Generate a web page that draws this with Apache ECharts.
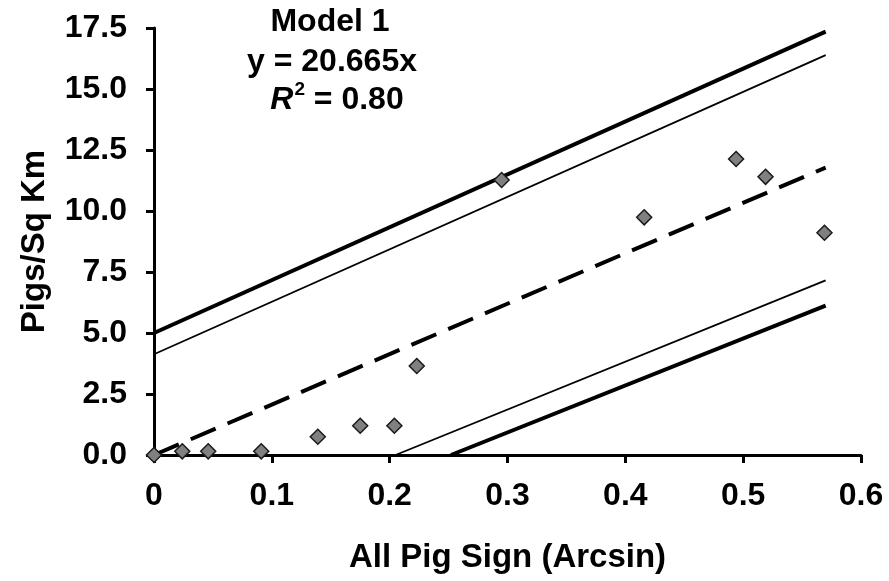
<!DOCTYPE html>
<html>
<head>
<meta charset="utf-8">
<script src="https://cdn.jsdelivr.net/npm/echarts@6/dist/echarts.min.js"></script>
<style>
html,body{margin:0;padding:0;background:#fff;}
#c{width:889px;height:581px;}
</style>
</head>
<body>
<div id="c"></div>
<script>
// Observed points (x = All Pig Sign (Arcsin), y = Pigs/Sq Km)
const xVals = [0, 0.024, 0.046, 0.091, 0.139, 0.175, 0.204, 0.223, 0.295, 0.416, 0.494, 0.519, 0.569];
const yVals = [0, 0.15, 0.15, 0.15, 0.75, 1.2, 1.2, 3.65, 11.27, 9.74, 12.13, 11.4, 9.11];

// Line end points
const fitLine = [[0, 0], [0.57, 11.78]];
const upperThick = [[0, 5.0], [0.57, 17.35]];
const upperThin = [[0, 4.13], [0.57, 16.39]];
const lowerThin = [[0.205, 0], [0.57, 7.16]];
const lowerThick = [[0.252, 0], [0.57, 6.12]];

// Axis ticks
const xTicks = [0, 0.1, 0.2, 0.3, 0.4, 0.5, 0.6];
const yTicks = [0, 2.5, 5, 7.5, 10, 12.5, 15, 17.5];

const annotation = ['Model 1', 'y = 20.665x', '{i|R}{s|2}{n| = 0.80}'];

const points = xVals.map((x, i) => [x, yVals[i]]);
const font = 'Liberation Sans, Arial, sans-serif';

const chart = echarts.init(document.getElementById('c'), null, {renderer: 'canvas'});
const axisCommon = {
  axisLine: {show: true, onZero: false, lineStyle: {color: '#000', width: 3}},
  axisTick: {show: true, inside: false, length: 8, lineStyle: {color: '#000', width: 3}},
  splitLine: {show: false},
  axisLabel: {color: '#000', fontFamily: font, fontWeight: 'bold', fontSize: 32},
  nameTextStyle: {color: '#000', fontFamily: font, fontWeight: 'bold', fontSize: 33}
};
chart.setOption({
  animation: false,
  backgroundColor: '#fff',
  grid: {left: 154, right: 28, top: 28, bottom: 126, containLabel: false},
  xAxis: Object.assign({}, axisCommon, {
    type: 'value', min: xTicks[0], max: xTicks[xTicks.length - 1], interval: 0.1,
    name: 'All Pig Sign (Arcsin)', nameLocation: 'middle', nameGap: 86,
    axisLabel: Object.assign({}, axisCommon.axisLabel, {margin: 25,
      formatter: v => v === 0 ? '0' : v.toFixed(1)})
  }),
  yAxis: Object.assign({}, axisCommon, {
    type: 'value', min: yTicks[0], max: yTicks[yTicks.length - 1], interval: 2.5,
    name: 'Pigs/Sq Km', nameLocation: 'middle', nameGap: 103, nameRotate: 90,
    axisLabel: Object.assign({}, axisCommon.axisLabel, {margin: 27,
      formatter: v => v.toFixed(1)})
  }),
  series: [
    {type: 'line', data: upperThick, symbol: 'none', lineStyle: {color: '#000', width: 4}, z: 2},
    {type: 'line', data: upperThin, symbol: 'none', lineStyle: {color: '#000', width: 1.8}, z: 2},
    {type: 'line', data: fitLine, symbol: 'none', lineStyle: {color: '#000', width: 4, type: [27, 13]}, z: 2},
    {type: 'line', data: lowerThin, symbol: 'none', lineStyle: {color: '#000', width: 1.8}, z: 2},
    {type: 'line', data: lowerThick, symbol: 'none', lineStyle: {color: '#000', width: 4}, z: 2},
    {type: 'scatter', data: points, symbol: 'diamond', symbolSize: 15,
      itemStyle: {color: '#808080', borderColor: '#1a1a1a', borderWidth: 1.5, opacity: 1}, z: 5}
  ],
  graphic: [
    {type: 'text', x: 330, y: 22, style: {text: annotation[0], align: 'center', verticalAlign: 'middle',
      font: 'bold 32px ' + font, fill: '#000'}},
    {type: 'text', x: 332, y: 62, style: {text: annotation[1], align: 'center', verticalAlign: 'middle',
      font: 'bold 32px ' + font, fill: '#000'}},
    {type: 'text', x: 337, y: 98, style: {text: annotation[2], align: 'center', verticalAlign: 'middle',
      fill: '#000',
      rich: {
        i: {fontFamily: font, fontWeight: 'bold', fontStyle: 'italic', fontSize: 32, lineHeight: 36, verticalAlign: 'bottom'},
        s: {fontFamily: font, fontWeight: 'bold', fontSize: 19, lineHeight: 36, verticalAlign: 'top', padding: [0, 0, 0, 1]},
        n: {fontFamily: font, fontWeight: 'bold', fontSize: 32, lineHeight: 36, verticalAlign: 'bottom'}
      }}}
  ]
});
</script>
</body>
</html>
